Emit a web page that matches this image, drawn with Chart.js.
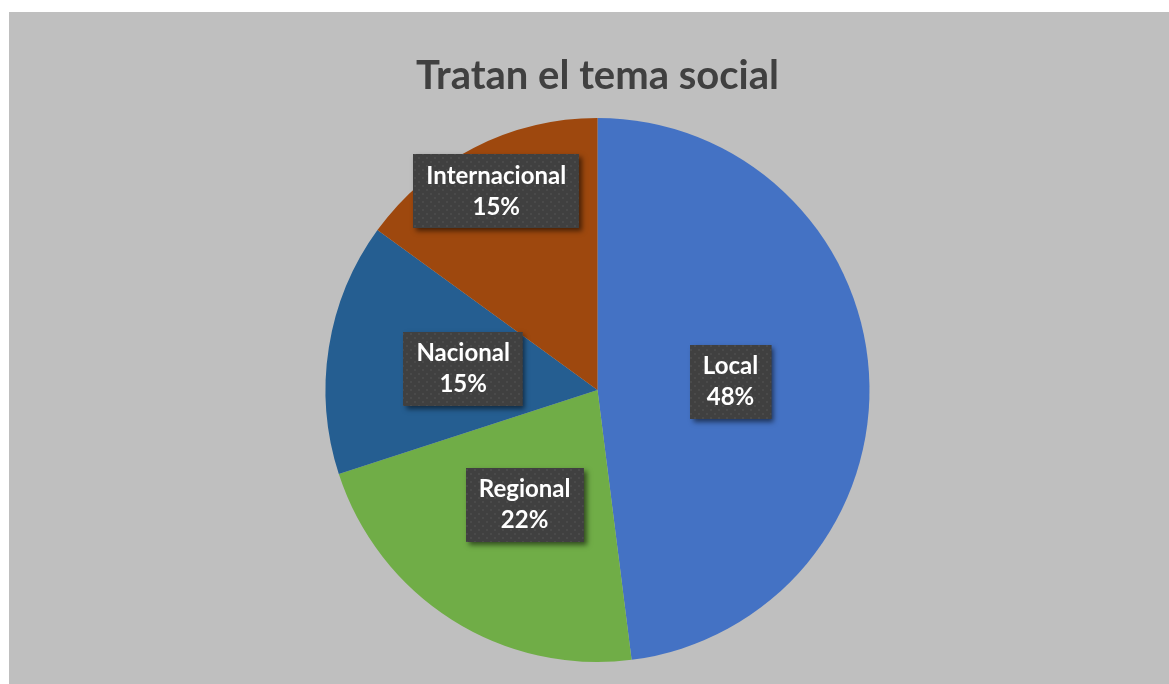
<!DOCTYPE html>
<html>
<head>
<meta charset="utf-8">
<script src="https://cdn.jsdelivr.net/npm/chart.js@4.4.0/dist/chart.umd.min.js"></script>
<style>
    html, body { margin: 0; background: #ffffff; }
    #wrap { position: absolute; left: 9px; top: 12px; width: 1160px; height: 672px; background: #bfbfbf; }
</style>
</head>
<body>
<div id="wrap"><canvas id="pie-chart"></canvas></div>
<script>
const categories = ['Local', 'Regional', 'Nacional', 'Internacional'];
const shares = [48, 22, 15, 15];
const sliceColors = ['#4472c4', '#70ad47', '#255e91', '#9e480e'];

// small dotted texture like the label boxes in the original
function boxPattern(ctx) {
    const c = document.createElement('canvas');
    c.width = 8; c.height = 8;
    const p = c.getContext('2d');
    p.fillStyle = '#404040';
    p.fillRect(0, 0, 8, 8);
    p.fillStyle = '#4a4a4a';
    p.fillRect(1, 1, 2, 2);
    p.fillRect(5, 5, 2, 2);
    return ctx.createPattern(c, 'repeat');
}

const labelBoxes = {
    id: 'labelBoxes',
    afterDatasetsDraw(chart, args, opts) {
        const ctx = chart.ctx;
        const meta = chart.getDatasetMeta(0);
        const total = shares.reduce((a, b) => a + b, 0);
        const pattern = boxPattern(ctx);
        ctx.save();
        ctx.font = opts.font;
        meta.data.forEach((arc, i) => {
            const { x, y, startAngle, endAngle, outerRadius } =
                arc.getProps(['x', 'y', 'startAngle', 'endAngle', 'outerRadius'], true);
            const mid = (startAngle + endAngle) / 2;
            const r = outerRadius * opts.radius[i];
            const cx = x + Math.cos(mid) * r;
            const cy = y + Math.sin(mid) * r;
            const lines = [categories[i], Math.round(shares[i] / total * 100) + '%'];
            const w = Math.max(...lines.map(l => ctx.measureText(l).width)) + 2 * opts.padX;
            const h = opts.height;
            const bx = Math.round(cx - w / 2), by = Math.round(cy - h / 2);

            ctx.shadowColor = 'rgba(0, 0, 0, 0.55)';
            ctx.shadowBlur = 5;
            ctx.shadowOffsetX = 3;
            ctx.shadowOffsetY = 3;
            ctx.fillStyle = '#404040';
            ctx.fillRect(bx, by, w, h);
            ctx.shadowColor = 'transparent';
            ctx.fillStyle = pattern;
            ctx.fillRect(bx, by, w, h);

            ctx.fillStyle = '#ffffff';
            ctx.textAlign = 'center';
            ctx.textBaseline = 'middle';
            ctx.fillText(lines[0], cx, cy - opts.lineGap / 2);
            ctx.fillText(lines[1], cx, cy + opts.lineGap / 2);
        });
        ctx.restore();
    }
};

new Chart(document.getElementById('pie-chart'), {
    type: 'pie',
    data: {
        labels: categories,
        datasets: [{
            data: shares,
            backgroundColor: sliceColors,
            borderWidth: 0
        }]
    },
    options: {
        responsive: true,
        maintainAspectRatio: false,
        animation: false,
        layout: { padding: { left: 17, right: 0, top: 0, bottom: 22 } },
        plugins: {
            legend: { display: false },
            tooltip: { enabled: false },
            title: {
                display: true,
                text: 'Tratan el tema social',
                color: '#404040',
                font: { family: 'Lato', size: 40, weight: 'bold', lineHeight: 1.2 },
                padding: { top: 40, bottom: 18 }
            },
            labelBoxes: {
                font: 'bold 24px Lato',
                radius: [0.49, 0.5, 0.5, 0.82],
                padX: 13,
                height: 74,
                lineGap: 31
            }
        }
    },
    plugins: [labelBoxes]
});
</script>
</body>
</html>
